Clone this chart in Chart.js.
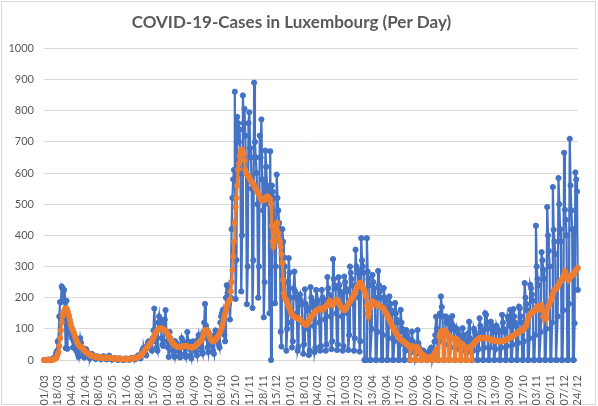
<!DOCTYPE html>
<html>
<head>
<meta charset="utf-8">
<script src="https://cdn.jsdelivr.net/npm/chart.js@4.4.1/dist/chart.umd.min.js"></script>
<style>
    html, body { margin: 0; padding: 0; background: #ffffff; }
    canvas { display: block; }
</style>
</head>
<body>
<canvas id="myChart" width="598" height="406"></canvas>
<script>
// Day-by-day data, 01/03/2020 -> 24/12/2021, one row per week (Sun..Sat)
const dailyCases = [
    0, 0, 0, 0, 0, 1, 1,
    0, 0, 1, 2, 3, 7, 7,
    8, 22, 29, 59, 63, 140, 186,
    185, 236, 230, 190, 225, 128, 38,
    190, 36, 140, 100, 120, 95, 80,
    70, 40, 60, 75, 50, 30, 60,
    20, 10, 45, 70, 55, 40, 30,
    15, 8, 25, 35, 30, 22, 18,
    10, 5, 15, 20, 18, 15, 10,
    8, 3, 10, 12, 10, 8, 6,
    5, 2, 8, 10, 12, 8, 5,
    4, 2, 6, 8, 14, 10, 4,
    3, 1, 5, 6, 4, 5, 3,
    2, 0, 4, 5, 3, 4, 2,
    1, 0, 3, 4, 5, 3, 2,
    2, 1, 4, 6, 5, 7, 4,
    3, 2, 8, 10, 12, 15, 9,
    8, 5, 20, 30, 35, 40, 28,
    20, 15, 45, 55, 60, 50, 40,
    35, 30, 70, 95, 165, 90, 60,
    40, 30, 120, 140, 110, 130, 70,
    50, 45, 120, 130, 160, 90, 60,
    40, 10, 90, 70, 60, 50, 30,
    20, 10, 60, 55, 50, 45, 30,
    15, 8, 45, 70, 60, 50, 40,
    20, 10, 55, 90, 60, 45, 35,
    15, 5, 50, 60, 45, 40, 30,
    25, 15, 65, 80, 55, 50, 40,
    30, 20, 90, 120, 180, 110, 70,
    40, 25, 85, 70, 60, 55, 45,
    30, 20, 80, 95, 90, 85, 60,
    50, 40, 120, 140, 150, 160, 110,
    80, 60, 200, 240, 215, 230, 180,
    130, 200, 420, 520, 580, 610, 861,
    196, 321, 780, 760, 700, 740, 600,
    220, 400, 849, 760, 806, 720, 600,
    179, 300, 760, 795, 680, 650, 550,
    167, 320, 890, 700, 650, 600, 500,
    200, 300, 720, 650, 772, 580, 480,
    137, 250, 672, 620, 560, 540, 500,
    150, 670, 0, 560, 540, 520, 420,
    182, 300, 595, 520, 480, 440, 380,
    91, 43, 420, 380, 330, 300, 200,
    30, 100, 250, 327, 280, 200, 120,
    40, 60, 230, 284, 220, 200, 150,
    30, 43, 200, 210, 190, 180, 120,
    20, 50, 227, 180, 170, 160, 100,
    16, 30, 234, 200, 190, 170, 110,
    25, 40, 225, 180, 190, 160, 120,
    30, 45, 225, 200, 180, 190, 130,
    30, 50, 266, 230, 210, 200, 140,
    35, 60, 324, 260, 240, 230, 150,
    32, 50, 266, 240, 220, 210, 140,
    30, 45, 268, 250, 230, 220, 150,
    32, 80, 300, 280, 260, 240, 180,
    30, 70, 354, 300, 290, 280, 200,
    27, 60, 391, 320, 300, 280, 0,
    0, 0, 391, 284, 260, 240, 0,
    0, 100, 273, 250, 230, 200, 0,
    0, 90, 286, 240, 220, 200, 0,
    0, 80, 231, 200, 190, 170, 0,
    0, 70, 204, 180, 160, 150, 0,
    0, 60, 183, 150, 130, 120, 0,
    0, 50, 161, 120, 100, 90, 0,
    0, 30, 96, 80, 70, 60, 0,
    0, 25, 91, 60, 50, 40, 0,
    0, 20, 96, 54, 40, 30, 0,
    0, 10, 30, 25, 20, 15, 0,
    0, 10, 25, 30, 35, 40, 0,
    0, 30, 59, 80, 139, 100, 0,
    0, 60, 150, 204, 170, 140, 0,
    0, 50, 140, 120, 130, 134, 0,
    0, 40, 118, 141, 110, 100, 0,
    0, 35, 100, 90, 80, 70, 0,
    0, 30, 102, 80, 70, 60, 0,
    0, 25, 86, 123, 70, 60, 0,
    0, 30, 100, 90, 80, 70, 0,
    0, 35, 134, 110, 100, 90, 0,
    0, 40, 150, 145, 120, 100, 0,
    0, 40, 123, 110, 100, 90, 0,
    0, 35, 110, 100, 96, 90, 0,
    0, 40, 145, 120, 100, 90, 0,
    0, 45, 139, 130, 110, 161, 0,
    0, 50, 163, 140, 120, 110, 0,
    0, 55, 171, 166, 140, 120, 0,
    0, 60, 247, 200, 180, 160, 0,
    0, 70, 241, 230, 210, 190, 0,
    0, 80, 431, 300, 260, 240, 0,
    0, 90, 346, 320, 290, 260, 0,
    0, 100, 491, 400, 350, 300, 0,
    0, 120, 555, 418, 380, 340, 0,
    0, 140, 584, 500, 420, 380, 0,
    0, 160, 665, 482, 450, 400, 0,
    0, 180, 710, 560, 480, 420, 0,
    0, 118, 602, 579, 541, 225
];

// 7-day average as plotted (orange)
const avgCases = [
    0, 0, 0, 0, 0, 0, 0,
    0, 0, 0, 1, 1, 2, 3,
    4, 7, 10, 18, 26, 45, 70,
    95, 120, 140, 150, 158, 163, 166,
    165, 160, 152, 142, 130, 118, 108,
    100, 95, 88, 80, 72, 65, 58,
    52, 48, 46, 44, 42, 40, 37,
    34, 31, 28, 26, 24, 22, 20,
    18, 17, 15, 14, 13, 12, 12,
    11, 10, 10, 9, 9, 8, 8,
    8, 8, 7, 7, 7, 7, 7,
    7, 7, 7, 7, 7, 7, 7,
    6, 6, 5, 5, 5, 5, 4,
    4, 4, 4, 3, 3, 3, 3,
    3, 3, 3, 3, 3, 3, 3,
    3, 3, 4, 4, 4, 4, 5,
    5, 6, 7, 8, 9, 10, 11,
    12, 14, 17, 20, 23, 27, 30,
    33, 36, 40, 43, 46, 50, 53,
    57, 61, 66, 72, 78, 84, 89,
    93, 96, 98, 100, 101, 102, 101,
    100, 99, 98, 96, 93, 90, 86,
    82, 77, 72, 67, 62, 58, 54,
    51, 48, 46, 44, 43, 42, 42,
    42, 42, 42, 43, 44, 44, 45,
    45, 45, 45, 44, 43, 42, 41,
    40, 40, 40, 41, 42, 43, 45,
    47, 50, 52, 55, 58, 60, 62,
    66, 72, 80, 88, 94, 96, 96,
    95, 90, 82, 75, 68, 63, 61,
    60, 60, 62, 65, 68, 72, 76,
    80, 85, 90, 98, 105, 115, 128,
    140, 150, 160, 171, 178, 185, 190,
    193, 220, 250, 289, 332, 380, 440,
    490, 520, 560, 611, 630, 654, 665,
    675, 675, 670, 660, 640, 610, 600,
    595, 592, 590, 585, 580, 575, 570,
    568, 565, 560, 555, 550, 545, 540,
    536, 530, 525, 520, 514, 512, 512,
    514, 516, 520, 523, 525, 525, 522,
    518, 514, 500, 430, 380, 364, 380,
    410, 430, 440, 440, 408, 390, 380,
    364, 340, 311, 257, 214, 200, 195,
    193, 185, 178, 172, 166, 160, 150,
    146, 142, 140, 138, 137, 136, 135,
    134, 133, 132, 130, 128, 125, 122,
    119, 117, 115, 113, 113, 115, 120,
    125, 130, 135, 139, 142, 145, 148,
    152, 155, 158, 160, 162, 163, 164,
    165, 163, 162, 161, 163, 168, 170,
    172, 175, 178, 182, 186, 190, 186,
    180, 176, 178, 182, 186, 190, 193,
    192, 190, 185, 180, 175, 170, 168,
    166, 162, 160, 161, 165, 170, 175,
    180, 184, 188, 192, 196, 200, 204,
    210, 216, 222, 228, 234, 240, 244,
    246, 248, 246, 240, 232, 225, 225,
    215, 204, 175, 150, 139, 150, 165,
    175, 188, 188, 186, 184, 182, 180,
    178, 176, 175, 174, 173, 172, 170,
    168, 167, 165, 160, 155, 150, 145,
    140, 135, 130, 125, 118, 112, 107,
    102, 97, 92, 88, 84, 80, 76,
    72, 68, 66, 64, 62, 60, 58,
    56, 54, 52, 50, 48, 46, 45,
    0, 44, 43, 43, 43, 42, 0,
    0, 43, 40, 35, 30, 25, 0,
    0, 18, 16, 14, 12, 10, 0,
    0, 8, 7, 7, 8, 10, 0,
    0, 15, 20, 25, 29, 35, 0,
    0, 75, 84, 91, 93, 94, 0,
    0, 93, 91, 88, 84, 80, 0,
    0, 74, 72, 70, 69, 68, 0,
    0, 68, 66, 62, 58, 55, 0,
    0, 53, 50, 46, 43, 40, 0,
    0, 40, 38, 38, 40, 42, 0,
    48, 50, 53, 56, 60, 63, 65,
    66, 68, 70, 70, 70, 70, 70,
    70, 70, 70, 70, 70, 70, 70,
    68, 66, 65, 64, 64, 63, 62,
    62, 61, 60, 60, 60, 60, 60,
    60, 60, 60, 61, 62, 63, 64,
    65, 66, 67, 68, 70, 72, 75,
    75, 76, 78, 80, 82, 84, 86,
    86, 88, 90, 92, 94, 96, 98,
    96, 100, 104, 107, 110, 120, 130,
    140, 145, 148, 150, 152, 155, 155,
    158, 161, 165, 170, 165, 161, 165,
    170, 177, 175, 160, 139, 135, 140,
    145, 134, 161, 170, 175, 180, 188,
    193, 200, 210, 220, 225, 228, 230,
    230, 235, 240, 245, 250, 255, 257,
    262, 268, 275, 284, 279, 270, 262,
    258, 257, 262, 268, 270, 272, 273,
    275, 280, 285, 289, 292, 296
];

// Labels shown on the axis (every 17th day)
const tickLabels = [
    '01/03', '18/03', '04/04', '21/04', '08/05', '25/05', '11/06', '28/06',
    '15/07', '01/08', '18/08', '04/09', '21/09', '08/10', '25/10', '11/11',
    '28/11', '15/12', '01/01', '18/01', '04/02', '21/02', '10/03', '27/03',
    '13/04', '30/04', '17/05', '03/06', '20/06', '07/07', '24/07', '10/08',
    '27/08', '13/09', '30/09', '17/10', '03/11', '20/11', '07/12', '24/12'
];
const tickEvery = 17;

// one category per day
const startDate = new Date(2020, 2, 1);
const categories = dailyCases.map((_, i) => {
    const d = new Date(startDate.getFullYear(), startDate.getMonth(), startDate.getDate() + i);
    return String(d.getDate()).padStart(2, '0') + '/' + String(d.getMonth() + 1).padStart(2, '0');
});

const textColor = '#595959';
const fontFamily = 'Lato, "Open Sans", sans-serif';

// white background + light frame like the original chart area
const framePlugin = {
    id: 'frame',
    beforeDraw(chart) {
        const c = chart.ctx;
        c.save();
        c.fillStyle = '#ffffff';
        c.fillRect(0, 0, chart.width, chart.height);
        c.strokeStyle = '#d9d9d9';
        c.lineWidth = 1;
        c.strokeRect(1.5, 1.5, 594, 403);
        c.restore();
    }
};

const ctx = document.getElementById('myChart').getContext('2d');
new Chart(ctx, {
    type: 'line',
    data: {
        labels: categories,
        datasets: [{
            label: '7-day average',
            data: avgCases,
            order: 0,
            borderColor: '#ED7D31',
            backgroundColor: '#ED7D31',
            borderWidth: 3,
            pointRadius: 2.6,
            pointBorderWidth: 1,
            pointBackgroundColor: '#ED7D31',
            pointBorderColor: '#ED7D31',
            tension: 0,
            clip: false
        }, {
            label: 'Daily cases',
            data: dailyCases,
            order: 1,
            borderColor: '#4472C4',
            backgroundColor: '#4472C4',
            borderWidth: 2.25,
            pointRadius: 2.6,
            pointBorderWidth: 1,
            pointBackgroundColor: '#4472C4',
            pointBorderColor: '#4472C4',
            tension: 0,
            clip: false
        }]
    },
    options: {
        responsive: false,
        animation: false,
        layout: { padding: { left: 0, right: 15, top: 0, bottom: 0 } },
        plugins: {
            legend: { display: false },
            tooltip: { enabled: false },
            title: {
                display: true,
                text: 'COVID-19-Cases in Luxembourg (Per Day)',
                color: textColor,
                font: { family: fontFamily, size: 17, weight: 'bold' },
                padding: { top: 12, bottom: 16 }
            }
        },
        scales: {
            x: {
                grid: { display: false },
                border: { display: false },
                ticks: {
                    autoSkip: false,
                    minRotation: 90,
                    maxRotation: 90,
                    padding: 7,
                    color: textColor,
                    font: { family: fontFamily, size: 11 },
                    callback: (value, index) => index % tickEvery === 0 ? tickLabels[index / tickEvery] : ''
                },
                afterFit: scale => { scale.height = 46; }
            },
            y: {
                min: 0,
                max: 1000,
                ticks: {
                    stepSize: 100,
                    padding: 10,
                    color: textColor,
                    font: { family: fontFamily, size: 11 },
                    callback: value => String(value)
                },
                grid: { color: '#d9d9d9', drawTicks: false },
                border: { display: false },
                afterFit: scale => { scale.width = 44; }
            }
        }
    },
    plugins: [framePlugin]
});
</script>
</body>
</html>
